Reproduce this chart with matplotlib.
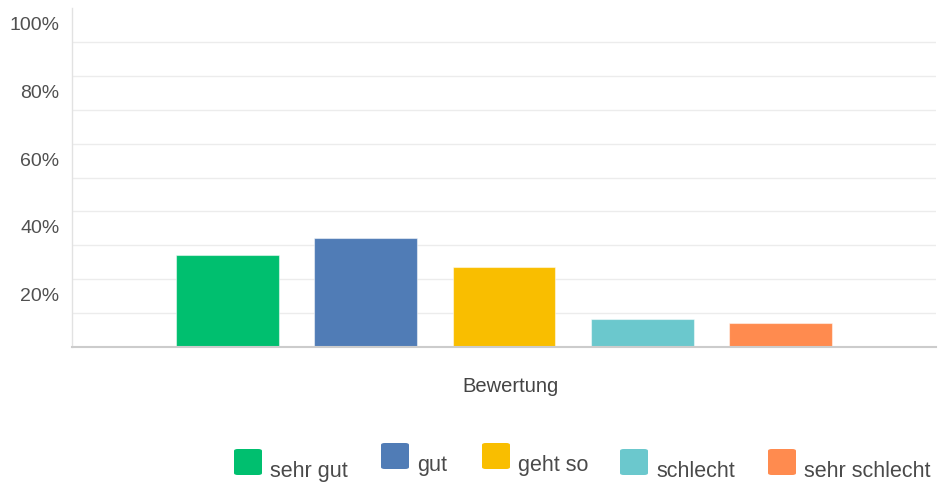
import matplotlib
matplotlib.use("Agg")
import matplotlib.pyplot as plt
from matplotlib.patches import FancyBboxPatch
import matplotlib.transforms as mtransforms

plt.rcParams['font.family'] = ['Liberation Sans', 'DejaVu Sans']

category = "Bewertung"
series = ["sehr gut", "gut", "geht so", "schlecht", "sehr schlecht"]
values = [27.1, 32.2, 23.5, 8.4, 7.2]
colors = ["#00BF6F", "#507CB6", "#F9BE00", "#6BC8CD", "#FF8B4F"]
y_ticks = [20, 40, 60, 80, 100]
y_tick_labels = ["20%", "40%", "60%", "80%", "100%"]
grid_values = [10, 20, 30, 40, 50, 60, 70, 80, 90]

W, H = 942, 482
fig = plt.figure(figsize=(W / 100, H / 100), dpi=100)
ax = fig.add_axes([72 / W, (H - 347) / H, 864 / W, 339 / H])

step = 0.16
width = 0.119
n = len(series)
for i, (name, v, c) in enumerate(zip(series, values, colors)):
    ax.bar((i - (n - 1) / 2) * step, v, width=width, color=c,
           edgecolor=(1, 1, 1, 0.5), linewidth=0.8, zorder=3)

ax.set_xlim(-0.5, 0.5)
ax.set_ylim(0, 100)
for g in grid_values:
    ax.axhline(g, color="#ececec", linewidth=1.0, zorder=1)

ax.set_xticks([])
ax.set_yticks(y_ticks)
ax.set_yticklabels(y_tick_labels, fontsize=14, color="#505050")
ax.tick_params(axis="y", length=0, pad=9)
offset = mtransforms.ScaledTranslation(0, -15.5 / 100, fig.dpi_scale_trans)
for lab in ax.get_yticklabels():
    lab.set_transform(lab.get_transform() + offset)

for s in ["top", "right"]:
    ax.spines[s].set_visible(False)
ax.spines["left"].set_color("#e2e2e2")
ax.spines["left"].set_linewidth(1.0)
ax.spines["bottom"].set_color("#cccccc")
ax.spines["bottom"].set_linewidth(1.5)
ax.spines["bottom"].set_zorder(4)

def fx(x):
    return x / W

def fy(y):
    return 1 - y / H

fig.text(fx(510), fy(392), category, ha="center", va="baseline",
         fontsize=14.5, color="#444444")

# manual legend (staggered as in the reference)
patch_left = [234, 381, 482, 620, 768]
patch_top = [449, 443, 443, 449, 449]
pw, ph = 28, 26
for name, c, px, pt in zip(series, colors, patch_left, patch_top):
    p = FancyBboxPatch((fx(px), fy(pt + ph)), pw / W, ph / H,
                       boxstyle="round,pad=0,rounding_size=0.004",
                       transform=fig.transFigure, facecolor=c,
                       edgecolor="none", figure=fig)
    fig.patches.append(p)
    fig.text(fx(px + pw + 8), fy(pt + ph + 2), name, ha="left", va="baseline",
             fontsize=15.5, color="#4a4a4a")

fig.savefig("out.png", dpi=100, facecolor="white")
